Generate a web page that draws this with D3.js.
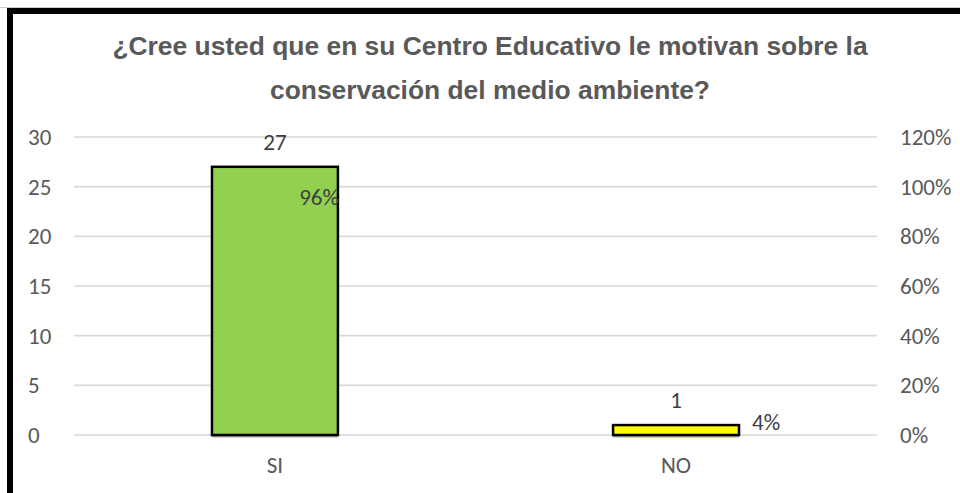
<!DOCTYPE html>
<html><head><meta charset="utf-8">
<script src="https://cdn.jsdelivr.net/npm/d3@7"></script>
<style>body{margin:0;background:#fff}svg{display:block}</style>
</head><body>
<svg id="c" width="960" height="493"></svg>
<script>
const categories = ["SI", "NO"];
const counts = [27, 1];
const percents = [0.96, 0.04];
const leftTicks = [0, 5, 10, 15, 20, 25, 30];
const rightTicks = [0, 0.2, 0.4, 0.6, 0.8, 1.0, 1.2];
const barColors = ["#92D050", "#FFFF00"];
const titleLines = ["¿Cree usted que en su Centro Educativo le motivan sobre la", "conservación del medio ambiente?"];

(function () {
const svg = d3.select("#c");
const W = 960, H = 493;
svg.append("rect").attr("x", 0).attr("y", 0).attr("width", W).attr("height", H).attr("fill", "#fff");

const pL = 74, pR = 877, pT = 137, pB = 435;
const x = d3.scaleBand().domain(categories).range([pL, pR]).paddingInner(0.686).paddingOuter(0.344);
const y = d3.scaleLinear().domain([0, 30]).range([pB, pT]);
const y2 = d3.scaleLinear().domain([0, 1.2]).range([pB, pT]);

svg.append("g").selectAll("line").data(leftTicks).join("line")
  .attr("x1", pL).attr("x2", pR)
  .attr("y1", d => y(d)).attr("y2", d => y(d))
  .attr("stroke", "#D9D9D9").attr("stroke-width", 1.6);

const font = "Calibri, Carlito, Lato, 'Open Sans', sans-serif";
const fs = "23px";
const la = svg.append("g").attr("transform", `translate(${pL},0)`)
  .call(d3.axisLeft(y).tickValues(leftTicks).tickSize(0).tickPadding(24));
la.select(".domain").remove();
la.selectAll("text").attr("fill", "#595959").style("font-family", font).style("font-size", fs).attr("text-anchor", "start").attr("x", -46);

const ra = svg.append("g").attr("transform", `translate(${pR},0)`)
  .call(d3.axisRight(y2).tickValues(rightTicks).tickSize(0).tickPadding(23).tickFormat(d3.format(".0%")));
ra.select(".domain").remove();
ra.selectAll("text").attr("fill", "#595959").style("font-family", font).style("font-size", fs);

const ba = svg.append("g").attr("transform", `translate(0,${pB})`)
  .call(d3.axisBottom(x).tickSize(0).tickPadding(22));
ba.select(".domain").remove();
ba.selectAll("text").attr("fill", "#595959").style("font-family", font).style("font-size", fs);

svg.append("g").selectAll("line").data(categories).join("line")
  .attr("x1", d => x(d)).attr("x2", d => x(d) + x.bandwidth())
  .attr("y1", pB + 1.8).attr("y2", pB + 1.8)
  .attr("stroke", "#A6A6A6").attr("stroke-width", 1.5);

svg.append("g").selectAll("rect").data(categories).join("rect")
  .attr("x", d => x(d)).attr("width", x.bandwidth())
  .attr("y", (d, i) => y(counts[i])).attr("height", (d, i) => pB - y(counts[i]))
  .attr("fill", (d, i) => barColors[i]).attr("stroke", "#000").attr("stroke-width", 2.5);

svg.append("g").selectAll("text").data(categories).join("text")
  .attr("x", d => x(d) + x.bandwidth() / 2).attr("y", (d, i) => y(counts[i]) - 17)
  .attr("text-anchor", "middle").attr("fill", "#404040")
  .style("font-family", font).style("font-size", fs)
  .text((d, i) => counts[i]);

// percentage labels: SI label ends at bar's right edge, NO label starts right of bar
const pctAnchor = ["end", "start"];
const pctDx = [1, 13];
const pctDy = [8, 5];
svg.append("g").selectAll("text").data(categories).join("text")
  .attr("x", (d, i) => x(d) + x.bandwidth() + pctDx[i])
  .attr("y", (d, i) => y2(percents[i]) + pctDy[i])
  .attr("text-anchor", (d, i) => pctAnchor[i]).attr("fill", "#404040")
  .style("font-family", font).style("font-size", fs)
  .text((d, i) => d3.format(".0%")(percents[i]));

svg.append("g").selectAll("text").data(titleLines).join("text")
  .attr("x", 490).attr("y", (d, i) => 55 + i * 44)
  .attr("text-anchor", "middle").attr("fill", "#595959")
  .style("font-family", "'Liberation Sans', Arial, sans-serif").style("font-weight", "bold").style("font-size", "26.4px")
  .text(d => d);

svg.append("line").attr("x1", 0).attr("x2", W).attr("y1", 7.5).attr("y2", 7.5).attr("stroke", "#ccc").attr("stroke-width", 1);
svg.append("rect").attr("x", 10).attr("y", 11).attr("width", W + 20).attr("height", H + 20)
  .attr("fill", "none").attr("stroke", "#000").attr("stroke-width", 6);
})();
</script>
</body></html>
